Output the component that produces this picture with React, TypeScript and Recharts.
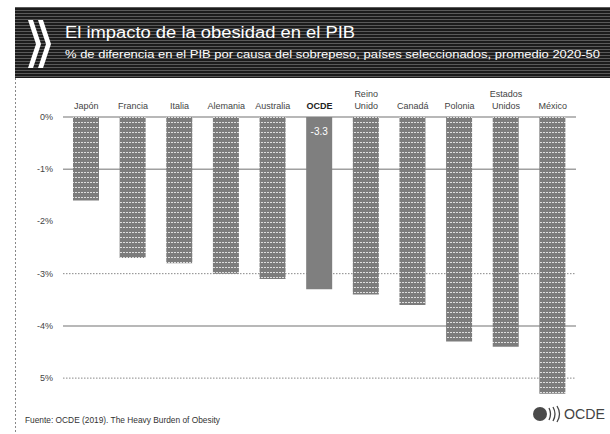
import React from "react";
import { BarChart, Bar, XAxis, YAxis, CartesianGrid, Cell, LabelList } from "recharts";

const categories = ["Japón", "Francia", "Italia", "Alemania", "Australia", "OCDE", "Reino\nUnido", "Canadá", "Polonia", "Estados\nUnidos", "México"];
const values = [-1.6, -2.7, -2.8, -3.0, -3.1, -3.3, -3.4, -3.6, -4.3, -4.4, -5.3];
const highlightCategory = "OCDE";
const yTicks = [0, -1, -2, -3, -4, -5];
const yTickLabels = ["0%", "-1%", "-2%", "-3%", "-4%", "5%"];
const solidGridValues = [0, -1, -4];
const dottedGridValues = [-3, -5];

const title = "El impacto de la obesidad en el PIB";
const subtitle = "% de diferencia en el PIB por causa del sobrepeso, países seleccionados, promedio 2020-50";
const source = "Fuente: OCDE (2019). The Heavy Burden of Obesity";

const data = categories.map((name, i) => ({ name, value: values[i] }));

const FONT = "'Liberation Sans', Arial, sans-serif";

const XTick = (props: any) => {
  const { x, y, payload } = props;
  const lines = String(payload.value).split("\n");
  const bold = payload.value === highlightCategory;
  return (
    <text x={x} y={y} textAnchor="middle" fontFamily={FONT} fontSize={9} fill={bold ? "#222" : "#444"} fontWeight={bold ? "bold" : "normal"}>
      {lines.map((l, i) => (
        <tspan key={i} x={x} y={y - (lines.length - 1 - i) * 12}>{l}</tspan>
      ))}
    </text>
  );
};

const YTick = (props: any) => {
  const { x, y, payload } = props;
  const idx = yTicks.indexOf(payload.value);
  return (
    <text x={x} y={y} dy={3} textAnchor="end" fontFamily={FONT} fontSize={9} fill="#444">
      {idx >= 0 ? yTickLabels[idx] : ""}
    </text>
  );
};

const ValueLabel = (props: any) => {
  const { x, y, width, height, index } = props;
  if (categories[index] !== highlightCategory) return null;
  const top = Math.min(y, y + height);
  return (
    <text x={x + width / 2} y={top + 18} textAnchor="middle" fontFamily={FONT} fontSize={10} fill="#fff">
      {String(values[index])}
    </text>
  );
};

export default function App() {
  return (
    <div style={{ position: "absolute", left: 0, top: 0, width: 610, height: 434, background: "#fff", overflow: "hidden" }}>
      <svg width={610} height={434} style={{ position: "absolute", left: 0, top: 0 }}>
        <defs>
          <pattern id="hdr" width={3} height={3} patternUnits="userSpaceOnUse">
            <rect width={3} height={3} fill="#1c1c1c" />
            <rect y={1} width={3} height={1} fill="#5a5a5a" />
          </pattern>
        </defs>
        <rect x={15} y={7} width={595} height={71} fill="url(#hdr)" />
        <polygon points="28,20 33,20 41,44 33,68 28,68 36,44" fill="#fff" />
        <polygon points="38,20 43,20 51,44 43,68 38,68 46,44" fill="#fff" />
        <text x={65} y={38} fontFamily={FONT} fontSize={16} fill="#fff" textLength={290} lengthAdjust="spacingAndGlyphs">{title}</text>
        <text x={65} y={58} fontFamily={FONT} fontSize={10.5} fill="#fff" textLength={535} lengthAdjust="spacingAndGlyphs">{subtitle}</text>
        <line x1={15.5} y1={78} x2={15.5} y2={434} stroke="#888" strokeDasharray="2 2" />
        <text x={25} y={423} fontFamily={FONT} fontSize={9} fill="#333" textLength={195} lengthAdjust="spacingAndGlyphs">{source}</text>
        <circle cx={540} cy={414} r={7} fill="#4a4a4a" />
        <path d="M549 408 Q552 414 549 420" stroke="#444" strokeWidth={1.3} fill="none" />
        <path d="M553 407 Q557 414 553 421" stroke="#444" strokeWidth={1.3} fill="none" />
        <path d="M557 406 Q562 414 557 422" stroke="#444" strokeWidth={1.3} fill="none" />
        <text x={564} y={419} fontFamily={FONT} fontSize={14} fill="#444" textLength={41} lengthAdjust="spacingAndGlyphs">OCDE</text>
      </svg>
      <div style={{ position: "absolute", left: 0, top: 0 }}>
        <BarChart width={610} height={434} data={data} margin={{ top: 80, right: 34, bottom: 35, left: 13 }}>
          <defs>
            <pattern id="barpat" width={3} height={5} patternUnits="userSpaceOnUse">
              <rect width={3} height={5} fill="#7c7c7c" />
              <rect x={0} y={2} width={2} height={1} fill="#dedede" />
            </pattern>
          </defs>
          <CartesianGrid vertical={false} horizontalValues={solidGridValues} stroke="#a0a0a0" strokeWidth={1.5} />
          <CartesianGrid vertical={false} horizontalValues={dottedGridValues} stroke="#888" strokeDasharray="1.5 1.5" />
          <XAxis dataKey="name" orientation="top" axisLine={false} tickLine={false} interval={0} height={37} tick={<XTick />} />
          <YAxis domain={[-5.4, 0]} ticks={yTicks} axisLine={false} tickLine={false} width={50} tick={<YTick />} tickMargin={4} />
          <Bar dataKey="value" barSize={26} isAnimationActive={false}>
            {data.map((d, i) => (
              <Cell key={i} fill={d.name === highlightCategory ? "#7f7f7f" : "url(#barpat)"} />
            ))}
            <LabelList dataKey="value" content={<ValueLabel />} />
          </Bar>
        </BarChart>
      </div>
    </div>
  );
}
